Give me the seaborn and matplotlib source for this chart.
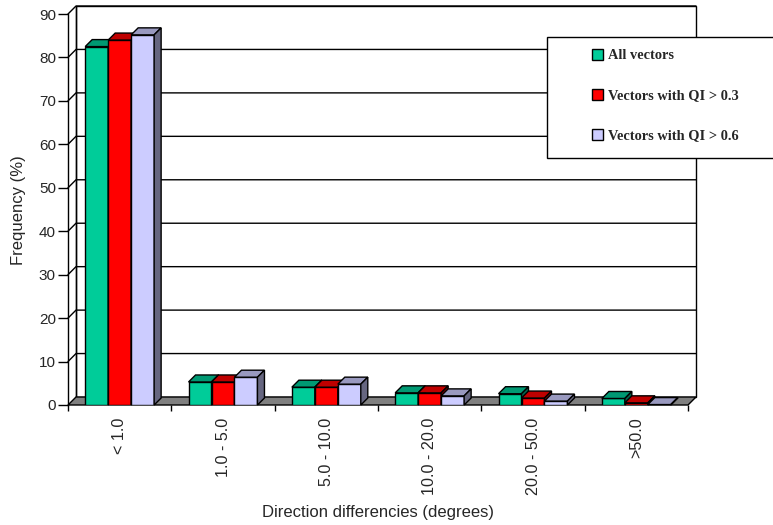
import matplotlib
matplotlib.use("Agg")
import matplotlib.pyplot as plt
import matplotlib.colors as mcolors
from matplotlib.patches import Polygon, Rectangle
import numpy as np
import pandas as pd
import seaborn as sns

# ---- data -------------------------------------------------------------
categories = ["< 1.0", "1.0 - 5.0", "5.0 - 10.0", "10.0 - 20.0", "20.0 - 50.0", ">50.0"]
series_names = ["All vectors", "Vectors with QI > 0.3", "Vectors with QI > 0.6"]
all_vectors = [82.5, 5.3, 4.1, 2.8, 2.6, 1.5]
qi_03 = [84.0, 5.3, 4.1, 2.8, 1.6, 0.5]
qi_06 = [85.2, 6.4, 4.8, 2.1, 0.9, 0.1]
y_ticks = [0, 10, 20, 30, 40, 50, 60, 70, 80, 90]

colors = ["#00CC99", "#FF0000", "#CCCCFF"]

df = pd.DataFrame({
    "category": categories * 3,
    "series": [s for s in series_names for _ in categories],
    "value": all_vectors + qi_03 + qi_06,
})

# ---- figure / axes ----------------------------------------------------
W, H = 773, 525
sns.set_theme(style="white")
plt.rcParams["font.family"] = ["Liberation Sans", "DejaVu Sans"]

fig = plt.figure(figsize=(W / 100, H / 100), dpi=100)
ax_l, ax_r, ax_t, ax_b = 68, 688, 14, 405          # front plane in pixels
ax = fig.add_axes([ax_l / W, (H - ax_b) / H, (ax_r - ax_l) / W, (ax_b - ax_t) / H])

sns.barplot(data=df, x="category", y="value", hue="series", order=categories,
            hue_order=series_names, palette=colors, width=0.667, gap=0,
            edgecolor="black", linewidth=1.0, saturation=1, legend=False, ax=ax)

ax.set_xlim(-0.5, len(categories) - 0.5)
ax.set_ylim(0, 90)

# pixel -> data conversion for the pseudo-3D depth
px_x = (len(categories)) / (ax_r - ax_l)
px_y = 90 / (ax_b - ax_t)
wall_dx, wall_dy = 8 * px_x, 8 * px_y
bar_dx, bar_dy = 7 * px_x, 7 * px_y

x0, x1 = -0.5, len(categories) - 0.5

# back wall and left wall outlines
ax.add_patch(Rectangle((x0 + wall_dx, wall_dy), x1 - x0, 90, facecolor="white",
                       edgecolor="black", linewidth=1.0, zorder=0.5, clip_on=False))
# gridlines: diagonal across the side wall, then along the back wall
for v in y_ticks[1:]:
    ax.plot([x0, x0 + wall_dx, x1 + wall_dx], [v, v + wall_dy, v + wall_dy],
            color="black", linewidth=1.0, zorder=0.8, clip_on=False)
ax.plot([x0 + wall_dx, x0 + wall_dx], [wall_dy, 90 + wall_dy], color="black",
        linewidth=1.0, zorder=0.8, clip_on=False)

# floor
ax.add_patch(Polygon([(x0, 0), (x1, 0), (x1 + wall_dx, wall_dy), (x0 + wall_dx, wall_dy)],
                     closed=True, facecolor="#808080", edgecolor="black",
                     linewidth=1.0, zorder=1, clip_on=False))


def shade(c, f):
    r, g, b = mcolors.to_rgb(c)
    return (r * f, g * f, b * f)


# top and side faces of each bar
for i, container in enumerate(ax.containers):
    z = 2 + i * 0.3
    for bar in container:
        bar.set_zorder(z)
        bx0 = bar.get_x()
        bx1 = bx0 + bar.get_width()
        h = bar.get_height()
        c = colors[i]
        top = Polygon([(bx0, h), (bx1, h), (bx1 + bar_dx, h + bar_dy), (bx0 + bar_dx, h + bar_dy)],
                      closed=True, facecolor=shade(c, 0.75), edgecolor="black",
                      linewidth=1.0, zorder=z + 0.1, clip_on=False)
        side = Polygon([(bx1, 0), (bx1 + bar_dx, bar_dy), (bx1 + bar_dx, h + bar_dy), (bx1, h)],
                       closed=True, facecolor=shade(c, 0.5), edgecolor="black",
                       linewidth=1.0, zorder=z + 0.1, clip_on=False)
        ax.add_patch(top)
        ax.add_patch(side)

# ---- axes styling -----------------------------------------------------
for name, sp in ax.spines.items():
    sp.set_visible(name == "left")
ax.spines["left"].set_color("black")
ax.spines["left"].set_linewidth(1.0)
ax.spines["left"].set_zorder(5)

ax.set_yticks(y_ticks)
ax.set_yticklabels([str(v) for v in y_ticks])
ax.tick_params(axis="y", direction="out", length=7.5, width=1.0, color="black",
               pad=1.2, labelsize=11, left=True)

ax.set_xticks(range(len(categories)))
ax.set_xticklabels(categories, rotation=90, ha="center", va="top", fontsize=11.6)
ax.set_xticks(np.arange(-0.5, len(categories)), minor=True)
ax.tick_params(axis="x", which="major", length=0, pad=9, bottom=True)
ax.tick_params(axis="x", which="minor", direction="out", length=4.5, width=1.0,
               color="black", bottom=True)

ax.set_xlabel("Direction differencies (degrees)", fontsize=12)
ax.set_ylabel("Frequency (%)", fontsize=12)
ax.xaxis.set_label_coords((377.5 - ax_l) / (ax_r - ax_l), -(512 - ax_b) / (ax_b - ax_t))
ax.xaxis.label.set_va("center")
ax.yaxis.set_label_coords(-(68 - 18.5) / (ax_r - ax_l), (ax_b - 210) / (ax_b - ax_t))
ax.yaxis.label.set_va("center")

# ---- legend -----------------------------------------------------------
box = Rectangle((547 / W, 1 - 158 / H), (776 - 547) / W, (158 - 37) / H,
                transform=fig.transFigure, facecolor="white", edgecolor="black",
                linewidth=1.0, zorder=5)
fig.add_artist(box)
handles = [Rectangle((0, 0), 1, 1, facecolor=c, edgecolor="black", linewidth=1.0)
           for c in colors]
leg = fig.legend(handles, series_names, loc="upper left",
                 bbox_to_anchor=(592 / W, 1 - 49 / H), bbox_transform=fig.transFigure,
                 frameon=False, borderpad=0, borderaxespad=0, handlelength=0.75,
                 handleheight=0.75, handletextpad=0.35, labelspacing=1.85,
                 prop={"family": "Liberation Serif", "weight": "bold", "size": 10.4})
leg.set_zorder(6)

fig.savefig("out.png", dpi=100)
